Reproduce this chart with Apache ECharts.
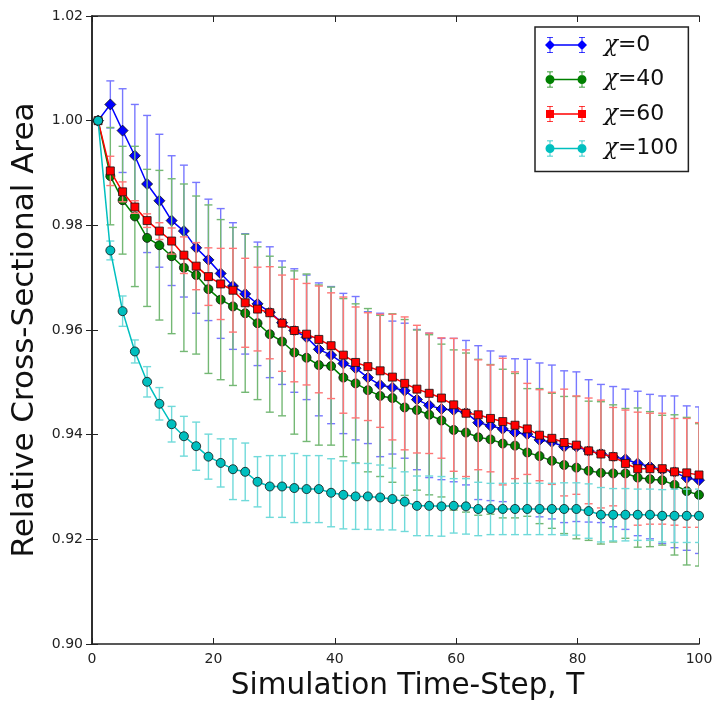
<!DOCTYPE html>
<html>
<head>
<meta charset="utf-8">
<script src="https://cdn.jsdelivr.net/npm/echarts@6/dist/echarts.min.js"></script>
<style>
  html, body { margin: 0; padding: 0; background: #fff; }
  #chart { width: 717px; height: 707px; }
</style>
</head>
<body>
<div id="chart"></div>
<script>
// simulation time steps (50 samples between 1 and 100)
const timeSteps = [1.00, 3.02, 5.04, 7.06, 9.08, 11.10, 13.12, 15.14, 17.16, 19.18,
  21.20, 23.22, 25.24, 27.27, 29.29, 31.31, 33.33, 35.35, 37.37, 39.39,
  41.41, 43.43, 45.45, 47.47, 49.49, 51.51, 53.53, 55.55, 57.57, 59.59,
  61.61, 63.63, 65.65, 67.67, 69.69, 71.71, 73.73, 75.76, 77.78, 79.80,
  81.82, 83.84, 85.86, 87.88, 89.90, 91.92, 93.94, 95.96, 97.98, 100.00];

const seriesNames = ['χ=0', 'χ=40', 'χ=60', 'χ=100'];

const chi0Mean = [1.0000, 1.0031, 0.9981, 0.9933, 0.9879, 0.9847, 0.9809, 0.9789, 0.9757, 0.9734,
  0.9708, 0.9684, 0.9669, 0.9650, 0.9634, 0.9614, 0.9599, 0.9586, 0.9563, 0.9552,
  0.9536, 0.9527, 0.9509, 0.9495, 0.9490, 0.9484, 0.9467, 0.9456, 0.9449, 0.9447,
  0.9442, 0.9423, 0.9417, 0.9411, 0.9404, 0.9401, 0.9390, 0.9386, 0.9377, 0.9377,
  0.9369, 0.9364, 0.9358, 0.9353, 0.9345, 0.9339, 0.9333, 0.9329, 0.9317, 0.9313];
const chi0Err = [0, 0.0045, 0.0080, 0.0098, 0.0131, 0.0127, 0.0124, 0.0126, 0.0125, 0.0116,
  0.0124, 0.0121, 0.0115, 0.0118, 0.0125, 0.0118, 0.0118, 0.0119, 0.0127, 0.0131,
  0.0134, 0.0137, 0.0126, 0.0137, 0.0127, 0.0129, 0.0134, 0.0138, 0.0135, 0.0137,
  0.0138, 0.0147, 0.0143, 0.0139, 0.0141, 0.0143, 0.0147, 0.0147, 0.0145, 0.0143,
  0.0136, 0.0132, 0.0134, 0.0134, 0.0138, 0.0138, 0.0141, 0.0145, 0.0138, 0.0140];

const chi40Mean = [1.0000, 0.9894, 0.9848, 0.9817, 0.9776, 0.9762, 0.9741, 0.9719, 0.9705, 0.9678,
  0.9658, 0.9645, 0.9632, 0.9613, 0.9592, 0.9578, 0.9557, 0.9547, 0.9533, 0.9531,
  0.9509, 0.9498, 0.9485, 0.9474, 0.9470, 0.9452, 0.9447, 0.9438, 0.9427, 0.9409,
  0.9404, 0.9395, 0.9391, 0.9383, 0.9379, 0.9366, 0.9359, 0.9350, 0.9342, 0.9337,
  0.9331, 0.9327, 0.9326, 0.9326, 0.9318, 0.9315, 0.9313, 0.9304, 0.9292, 0.9285];
const chi40Err = [0, 0.0093, 0.0103, 0.0134, 0.0131, 0.0143, 0.0148, 0.0160, 0.0151, 0.0161,
  0.0153, 0.0151, 0.0151, 0.0146, 0.0149, 0.0142, 0.0156, 0.0160, 0.0153, 0.0151,
  0.0151, 0.0152, 0.0156, 0.0154, 0.0161, 0.0168, 0.0153, 0.0153, 0.0146, 0.0153,
  0.0152, 0.0149, 0.0143, 0.0142, 0.0138, 0.0122, 0.0129, 0.0129, 0.0131, 0.0136,
  0.0133, 0.0136, 0.0131, 0.0124, 0.0133, 0.0129, 0.0124, 0.0134, 0.0141, 0.0136];

const chi60Mean = [1.0000, 0.9904, 0.9864, 0.9835, 0.9809, 0.9789, 0.9770, 0.9743, 0.9722, 0.9702,
  0.9688, 0.9676, 0.9652, 0.9640, 0.9633, 0.9613, 0.9599, 0.9592, 0.9582, 0.9570,
  0.9552, 0.9538, 0.9530, 0.9522, 0.9510, 0.9498, 0.9487, 0.9479, 0.9470, 0.9457,
  0.9441, 0.9438, 0.9431, 0.9425, 0.9418, 0.9411, 0.9399, 0.9393, 0.9385, 0.9380,
  0.9369, 0.9363, 0.9358, 0.9345, 0.9335, 0.9335, 0.9335, 0.9329, 0.9327, 0.9323];
const chi60Err = [0, 0.0028, 0.0019, 0.0012, 0.0013, 0.0016, 0.0025, 0.0035, 0.0045, 0.0055,
  0.0068, 0.0080, 0.0085, 0.0080, 0.0088, 0.0092, 0.0098, 0.0097, 0.0102, 0.0101,
  0.0111, 0.0106, 0.0103, 0.0108, 0.0120, 0.0127, 0.0122, 0.0115, 0.0115, 0.0127,
  0.0121, 0.0105, 0.0102, 0.0121, 0.0102, 0.0087, 0.0087, 0.0088, 0.0102, 0.0094,
  0.0101, 0.0103, 0.0094, 0.0102, 0.0108, 0.0106, 0.0106, 0.0102, 0.0104, 0.0100];

const chi100Mean = [1.0000, 0.9752, 0.9636, 0.9559, 0.9501, 0.9459, 0.9420, 0.9397, 0.9378, 0.9358,
  0.9346, 0.9334, 0.9329, 0.9310, 0.9301, 0.9301, 0.9298, 0.9296, 0.9296, 0.9289,
  0.9285, 0.9282, 0.9282, 0.9280, 0.9277, 0.9272, 0.9264, 0.9264, 0.9263, 0.9264,
  0.9263, 0.9258, 0.9258, 0.9258, 0.9258, 0.9258, 0.9258, 0.9258, 0.9258, 0.9258,
  0.9254, 0.9247, 0.9247, 0.9247, 0.9247, 0.9247, 0.9245, 0.9245, 0.9245, 0.9245];
const chi100Err = [0, 0.0018, 0.0029, 0.0022, 0.0029, 0.0031, 0.0034, 0.0038, 0.0046, 0.0043,
  0.0046, 0.0058, 0.0055, 0.0048, 0.0059, 0.0059, 0.0066, 0.0064, 0.0064, 0.0065,
  0.0065, 0.0063, 0.0063, 0.0062, 0.0059, 0.0057, 0.0057, 0.0057, 0.0057, 0.0052,
  0.0053, 0.0051, 0.0049, 0.0049, 0.0049, 0.0049, 0.0049, 0.0049, 0.0050, 0.0050,
  0.0052, 0.0052, 0.0050, 0.0050, 0.0049, 0.0049, 0.0050, 0.0051, 0.0051, 0.0051];

const means = [chi0Mean, chi40Mean, chi60Mean, chi100Mean];
const errs = [chi0Err, chi40Err, chi60Err, chi100Err];

const colors = ['#0000ff', '#008000', '#ff0000', '#00bfbf'];
const barColors = ['#7878ff', '#74b874', '#ff7676', '#70dada'];
const symbols = ['diamond', 'circle', 'rect', 'circle'];
const symbolSizes = [11, 9, 8, 9];

// legend icons: two markers joined by a line, with error bars (42 x 16 box), all drawn clockwise
const bars = 'M4.6 0 L5.4 0 L5.4 16 L4.6 16 Z M2 0 L8 0 L8 0.8 L2 0.8 Z M2 15.2 L8 15.2 L8 16 L2 16 Z ' +
  'M36.6 0 L37.4 0 L37.4 16 L36.6 16 Z M34 0 L40 0 L40 0.8 L34 0.8 Z M34 15.2 L40 15.2 L40 16 L34 16 Z ' +
  'M5 7.3 L37 7.3 L37 8.7 L5 8.7 Z ';
const circles = 'M0.5 8 A4.5 4.5 0 0 1 9.5 8 A4.5 4.5 0 0 1 0.5 8 Z M32.5 8 A4.5 4.5 0 0 1 41.5 8 A4.5 4.5 0 0 1 32.5 8 Z';
const legendIcons = [
  'path://' + bars + 'M0 8 L5 3 L10 8 L5 13 Z M32 8 L37 3 L42 8 L37 13 Z',
  'path://' + bars + circles,
  'path://' + bars + 'M1 4 L9 4 L9 12 L1 12 Z M33 4 L41 4 L41 12 L33 12 Z',
  'path://' + bars + circles
];

function errorBarRenderer(color) {
  return function (params, api) {
    const x = api.value(0);
    const lo = api.value(1);
    const hi = api.value(2);
    if (hi - lo <= 0) return null;
    const top = api.coord([x, hi]);
    const bot = api.coord([x, lo]);
    const cap = 4;
    const style = { stroke: color, lineWidth: 1.4, fill: null };
    return {
      type: 'group',
      children: [
        { type: 'line', shape: { x1: top[0], y1: top[1], x2: bot[0], y2: bot[1] }, style: style },
        { type: 'line', shape: { x1: top[0] - cap, y1: top[1], x2: top[0] + cap, y2: top[1] }, style: style },
        { type: 'line', shape: { x1: bot[0] - cap, y1: bot[1], x2: bot[0] + cap, y2: bot[1] }, style: style }
      ]
    };
  };
}

const series = [];
seriesNames.forEach(function (name, k) {
  series.push({
    name: name + ' err',
    type: 'custom',
    renderItem: errorBarRenderer(barColors[k]),
    data: timeSteps.map(function (t, i) { return [t, means[k][i] - errs[k][i], means[k][i] + errs[k][i]]; }),
    encode: { x: 0, y: [1, 2] },
    clip: true,
    silent: true,
    z: 2 + k * 2
  });
  series.push({
    name: name,
    type: 'line',
    data: timeSteps.map(function (t, i) { return [t, means[k][i]]; }),
    symbol: symbols[k],
    symbolSize: symbolSizes[k],
    showAllSymbol: true,
    lineStyle: { color: colors[k], width: 1.5 },
    itemStyle: { color: colors[k], borderColor: '#111', borderWidth: 0.8 },
    clip: true,
    z: 3 + k * 2
  });
});

const chart = echarts.init(document.getElementById('chart'));

const axisLine = { show: true, lineStyle: { color: '#222', width: 1.5 } };
const axisTick = { show: true, inside: true, length: 6, lineStyle: { color: '#222', width: 1 } };

chart.setOption({
  animation: false,
  backgroundColor: '#fff',
  textStyle: { fontFamily: 'DejaVu Sans' },
  grid: { left: 92, right: 18, top: 16, bottom: 63 },
  legend: {
    orient: 'vertical',
    left: 535,
    top: 27,
    padding: [6, 10, 11, 10],
    itemGap: 10.5,
    itemWidth: 42,
    itemHeight: 16,
    backgroundColor: '#fff',
    borderColor: '#222',
    borderWidth: 1.5,
    borderRadius: 0,
    itemStyle: { borderWidth: 0 },
    data: seriesNames.map(function (n, k) { return { name: n, icon: legendIcons[k] }; }),
    formatter: function (name) { return '{i|χ}' + name.slice(1); },
    textStyle: {
      fontSize: 22,
      lineHeight: 24,
      color: '#111',
      padding: [0, 0, 0, 12],
      rich: {
        i: { fontSize: 23, fontStyle: 'italic', fontFamily: 'DejaVu Serif', color: '#111', lineHeight: 24 }
      }
    }
  },
  xAxis: [
    {
      type: 'value', min: 0, max: 100, interval: 20, position: 'bottom',
      name: 'Simulation Time-Step, T', nameLocation: 'middle', nameGap: 17,
      nameTextStyle: { fontSize: 29.5, color: '#111', padding: [0, 0, 0, 24] },
      axisLine: axisLine, axisTick: axisTick,
      axisLabel: { fontSize: 14, color: '#222', margin: 8 },
      splitLine: { show: false }
    },
    {
      type: 'value', min: 0, max: 100, interval: 20, position: 'top',
      axisLine: axisLine, axisTick: axisTick,
      axisLabel: { show: false }, splitLine: { show: false }
    }
  ],
  yAxis: [
    {
      type: 'value', min: 0.90, max: 1.02, interval: 0.02, position: 'left',
      name: 'Relative Cross-Sectional Area', nameLocation: 'middle', nameGap: 40,
      nameTextStyle: { fontSize: 31, color: '#111' },
      axisLine: axisLine, axisTick: axisTick,
      axisLabel: { fontSize: 14, color: '#222', margin: 9, formatter: function (v) { return v.toFixed(2); } },
      splitLine: { show: false }
    },
    {
      type: 'value', min: 0.90, max: 1.02, interval: 0.02, position: 'right',
      axisLine: axisLine, axisTick: axisTick,
      axisLabel: { show: false }, splitLine: { show: false }
    }
  ],
  series: series
});
</script>
</body>
</html>
